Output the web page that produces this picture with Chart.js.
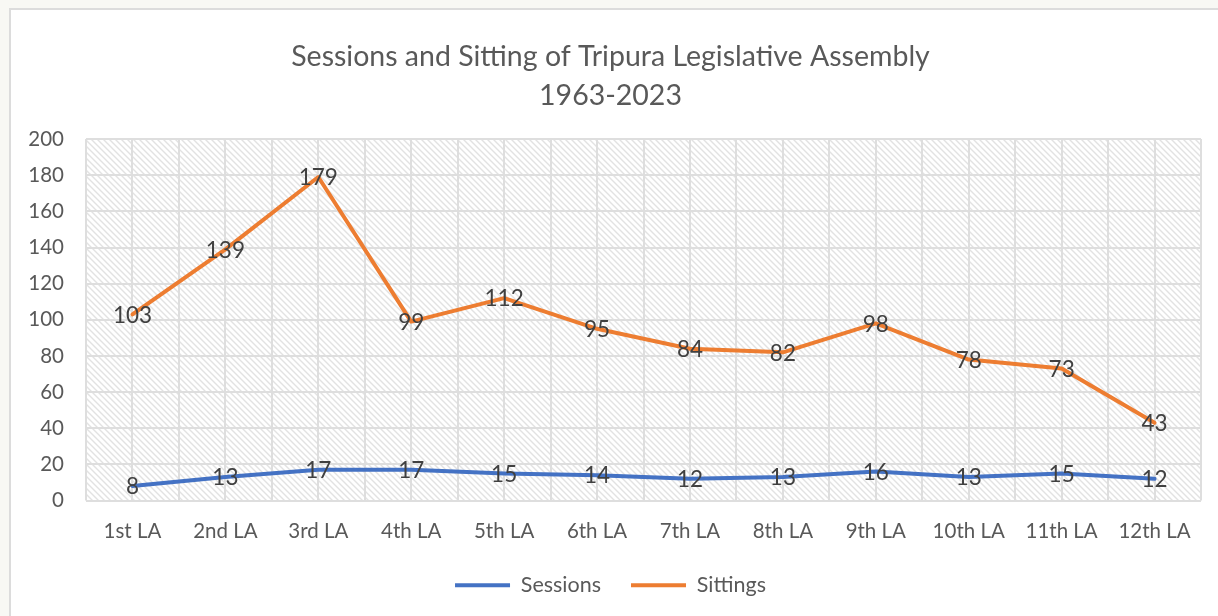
<!DOCTYPE html>
<html>
<head>
<meta charset="utf-8">
<script src="https://cdn.jsdelivr.net/npm/chart.js@4"></script>
<style>
  html, body { margin: 0; padding: 0; background: #f8f8f4; overflow: hidden; }
  .frame { position: absolute; left: 9px; top: 8px; width: 1220px; height: 620px;
           background: #fff; border: 2px solid #dcdcdc; }
  .wrap { position: absolute; left: 0; top: 0; width: 1218px; height: 616px; }
</style>
</head>
<body>
<div class="frame"></div>
<div class="wrap"><canvas id="chart" width="1218" height="616"></canvas></div>
<script>
const FONT = "Lato, 'Noto Sans', sans-serif";

const categories = ['1st LA', '2nd LA', '3rd LA', '4th LA', '5th LA', '6th LA',
                    '7th LA', '8th LA', '9th LA', '10th LA', '11th LA', '12th LA'];
const sessions = [8, 13, 17, 17, 15, 14, 12, 13, 16, 13, 15, 12];
const sittings = [103, 139, 179, 99, 112, 95, 84, 82, 98, 78, 73, 43];
const titleLines = ['Sessions and Sitting of Tripura Legislative Assembly', '1963-2023'];

// diagonal hatch like Excel's light downward diagonal fill
function makeHatch() {
  const c = document.createElement('canvas');
  c.width = 6; c.height = 6;
  const g = c.getContext('2d');
  g.fillStyle = '#fff';
  g.fillRect(0, 0, 6, 6);
  g.strokeStyle = '#e2e2e2';
  g.lineWidth = 1.4;
  g.beginPath();
  g.moveTo(-3, -3); g.lineTo(9, 9);
  g.moveTo(-3, 3); g.lineTo(3, 9);
  g.moveTo(3, -3); g.lineTo(9, 3);
  g.stroke();
  return g.createPattern(c, 'repeat');
}

const hatchPlugin = {
  id: 'hatch',
  beforeDraw(chart) {
    const { ctx, chartArea: a } = chart;
    ctx.save();
    ctx.fillStyle = makeHatch();
    ctx.fillRect(a.left, a.top, a.right - a.left, a.bottom - a.top);
    ctx.restore();
  }
};

// value labels centred on each point, as in the Excel original
const labelPlugin = {
  id: 'pointLabels',
  afterDatasetsDraw(chart) {
    const ctx = chart.ctx;
    ctx.save();
    ctx.font = '22.5px ' + FONT;
    ctx.fillStyle = '#404040';
    ctx.textAlign = 'center';
    ctx.textBaseline = 'middle';
    chart.data.datasets.forEach((ds, i) => {
      chart.getDatasetMeta(i).data.forEach((pt, j) => {
        ctx.fillText(String(ds.data[j]), pt.x, pt.y + 1);
      });
    });
    ctx.restore();
  }
};

new Chart(document.getElementById('chart'), {
  type: 'line',
  data: {
    labels: categories,
    datasets: [
      { label: 'Sessions', data: sessions, borderColor: '#4472c4', backgroundColor: '#4472c4',
        borderWidth: 4, pointRadius: 0, tension: 0, borderCapStyle: 'round', borderJoinStyle: 'round' },
      { label: 'Sittings', data: sittings, borderColor: '#ed7d31', backgroundColor: '#ed7d31',
        borderWidth: 4, pointRadius: 0, tension: 0, borderCapStyle: 'round', borderJoinStyle: 'round' },
    ],
  },
  options: {
    responsive: false,
    animation: false,
    layout: { padding: { left: 20, right: 17, top: 0, bottom: 10 } },
    plugins: {
      title: {
        display: true,
        text: titleLines,
        color: '#595959',
        font: { family: FONT, size: 28.5, weight: 'normal', lineHeight: 1.37 },
        padding: { top: 37, bottom: 24 },
      },
      legend: {
        position: 'bottom',
        labels: {
          color: '#595959',
          font: { family: FONT, size: 21.5 },
          boxWidth: 55,
          boxHeight: 4,
          padding: 30,
          generateLabels: chart => chart.data.datasets.map((ds, i) => ({
            text: ds.label, fillStyle: ds.borderColor, strokeStyle: ds.borderColor,
            lineWidth: 0, datasetIndex: i, fontColor: '#595959',
          })),
        },
      },
      tooltip: { enabled: false },
    },
    scales: {
      x: {
        offset: true,
        grid: { color: '#dedede', lineWidth: 2, drawTicks: false, offset: false },
        border: { display: false },
        ticks: { color: '#595959', font: { family: FONT, size: 20.5 }, padding: 19, maxRotation: 0 },
        afterFit: s => { s.height = 44; },
      },
      xb: {
        type: 'category',
        position: 'top',
        labels: categories,
        offset: true,
        grid: { color: '#dedede', lineWidth: 2, drawTicks: false, offset: true },
        border: { display: false },
        ticks: { display: false },
      },
      y: {
        min: 0,
        max: 200,
        ticks: { stepSize: 20, color: '#595959', font: { family: FONT, size: 20.5 }, padding: 22 },
        grid: { color: '#dedede', lineWidth: 2, drawTicks: false },
        border: { display: false },
        afterFit: s => { s.width = 66; },
      },
    },
  },
  plugins: [hatchPlugin, labelPlugin],
});
</script>
</body>
</html>
